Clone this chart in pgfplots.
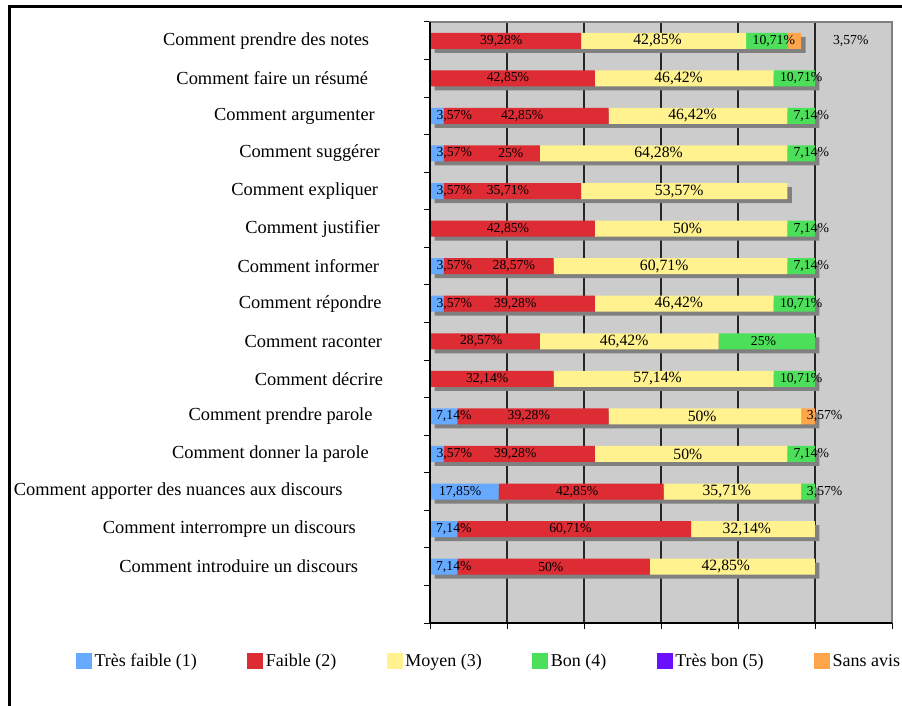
\documentclass[border=0pt]{standalone}
\usepackage{fontspec}
\setmainfont{Liberation Serif}
\usepackage{pgfplots}
\usepackage{pgfplotstable}
\pgfplotsset{compat=1.18}
\definecolor{cTF}{RGB}{102,170,255}
\definecolor{cF}{RGB}{221,44,52}
\definecolor{cM}{RGB}{255,242,143}
\definecolor{cB}{RGB}{76,224,90}
\definecolor{cTB}{RGB}{107,16,255}
\definecolor{cSA}{RGB}{255,166,77}
\definecolor{bgray}{RGB}{204,204,204}
\definecolor{sgray}{RGB}{128,128,128}
\newcommand\catfont{\fontsize{18.4}{20}\selectfont}
\newcommand\lblfont{\fontsize{13.7}{15}\selectfont}
\newcommand\ylwfont{\fontsize{15.7}{17}\selectfont}
\newcommand\legfont{\fontsize{18}{20}\selectfont}
\pgfplotsset{
  legsq/.style={legend image code/.code={\fill[##1] (0pt,-8pt) rectangle (16pt,8pt);}},
  geom/.style={at={(430pt,-22pt)}, anchor=north west, width=462pt, height=601pt,
    scale only axis, xmin=0, xmax=120, ymin=-0.5, ymax=15.5, clip=false},
}
% y: 15 = first category (top), 1 = last category
\pgfplotstableread{
y tf f m b sa tot
15 0 39.28 42.85 10.71 3.57 96.41
14 0 42.85 46.42 10.71 0 99.98
13 3.57 42.85 46.42 7.14 0 99.98
12 3.57 25 64.28 7.14 0 99.99
11 3.57 35.71 53.57 0 0 92.85
10 0 42.85 50 7.14 0 99.99
9 3.57 28.57 60.71 7.14 0 99.99
8 3.57 39.28 46.42 10.71 0 99.98
7 0 28.57 46.42 25 0 99.99
6 0 32.14 57.14 10.71 0 99.99
5 7.14 39.28 50 0 3.57 99.99
4 3.57 39.28 50 7.14 0 99.99
3 17.85 42.85 35.71 3.57 0 99.98
2 7.14 60.71 32.14 0 0 99.99
1 7.14 50 42.85 0 0 99.99
}\data
% label positions (x = label centre)
\pgfplotstableread{
x y v
18.49 15 39.28
89.30 15 10.71
109.3 15 3.57
20.26 14 42.85
96.40 14 10.71
6.29 13 3.57
23.94 13 42.85
99.04 13 7.14
6.29 12 3.57
20.99 12 25
99.04 12 7.14
6.29 11 3.57
20.26 11 35.71
20.26 10 42.85
99.04 10 7.14
6.29 9 3.57
21.78 9 28.57
99.04 9 7.14
6.29 8 3.57
22.16 8 39.28
96.40 8 10.71
13.29 7 28.57
86.62 7 25
14.85 6 32.14
96.40 6 10.71
6.19 5 7.14
25.67 5 39.28
102.51 5 3.57
6.29 4 3.57
22.16 4 39.28
99.04 4 7.14
7.83 3 17.85
38.22 3 42.85
102.51 3 3.57
6.19 2 7.14
36.49 2 60.71
6.19 1 7.14
31.38 1 50
}\lblA
\pgfplotstableread{
x y v
59.09 15 42.85
64.55 14 46.42
68.18 13 46.42
59.35 12 64.28
64.72 11 53.57
66.88 10 50
60.82 9 60.71
64.63 8 46.42
50.43 7 46.42
59.09 6 57.14
70.69 5 50
66.97 4 50
77.10 3 35.71
82.30 2 32.14
76.84 1 42.85
}\lblB
\begin{document}
\begin{tikzpicture}
\useasboundingbox (0pt,0pt) rectangle (902pt,-706pt);
% background, grid, ticks
\begin{axis}[geom,
  axis background/.style={fill=bgray},
  axis line style={sgray, line width=1.2pt},
  xtick={20,40,...,100}, xticklabels={},
  extra x ticks={0,120}, extra x tick labels={}, extra x tick style={grid=none},
  ytick={-0.5,0.5,...,15.5}, yticklabels={},
  xmajorgrids, major grid style={black!85, line width=1.2pt},
  tick align=outside, xtick pos=bottom, ytick pos=left,
  major tick length=6pt, tick style={black, line width=1pt},
]
\addplot[draw=none] coordinates {(0,1)};
\end{axis}
% shadows
\begin{axis}[geom, xmin=-1.169, xmax=118.831, ymin=-0.3935, ymax=15.6065,
  hide axis]
\addplot[xbar, bar width=16pt, fill=sgray, draw=none] table[x=tot, y=y]{\data};
\end{axis}
% bars
\begin{axis}[geom, xbar stacked, bar width=16pt,
  axis line style={draw=none}, xtick=\empty,
  ytick={1,...,15},
  yticklabels={
    Comment introduire un discours\kern25pt,
    Comment interrompre un discours\kern27.3pt,
    Comment apporter des nuances aux discours\kern40.6pt,
    Comment donner la parole\kern14.3pt,
    Comment prendre parole\kern10.6pt,
    Comment décrire,
    Comment raconter\kern1pt,
    Comment répondre\kern1.6pt,
    Comment informer\kern4pt,
    Comment justifier\kern3.3pt,
    Comment expliquer\kern5pt,
    Comment suggérer\kern3.3pt,
    Comment argumenter\kern8.3pt,
    Comment faire un résumé\kern15pt,
    Comment prendre des notes\kern14pt},
  ytick style={draw=none}, major tick length=0pt,
  yticklabel style={font=\catfont, anchor=east, inner sep=0pt, xshift=-46.7pt},
  legend columns=6,
  legend style={at={(-0.7662,-0.0632)}, anchor=west, draw=none, fill=none,
    inner sep=0pt, outer sep=0pt, font=\legfont,
    nodes={inner sep=2.5pt},
    /tikz/every even column/.append style={column sep=48pt}},
]
\addplot[legsq, fill=cTF, draw=none] table[x=tf, y=y]{\data};
\addplot[legsq, fill=cF, draw=none] table[x=f, y=y]{\data};
\addplot[legsq, fill=cM, draw=none] table[x=m, y=y]{\data};
\addplot[legsq, fill=cB, draw=none] table[x=b, y=y]{\data};
\addlegendimage{legsq, fill=cTB, draw=none}
\addplot[legsq, fill=cSA, draw=none] table[x=sa, y=y]{\data};
\legend{Très faible (1), Faible (2), Moyen (3), Bon (4), Très bon (5), Sans avis}
\end{axis}
% value labels
\begin{axis}[geom, hide axis]
\addplot[draw=none, mark=none, point meta=explicit,
  nodes near coords={\pgfmathprintnumber[fixed,precision=2,use comma,assume math mode=true]{\pgfplotspointmeta}\%},
  nodes near coords align={center},
  every node near coord/.append style={font=\lblfont, inner sep=0pt, text=black}]
  table[x=x, y=y, meta=v]{\lblA};
\addplot[draw=none, mark=none, point meta=explicit,
  nodes near coords={\pgfmathprintnumber[fixed,precision=2,use comma,assume math mode=true]{\pgfplotspointmeta}\%},
  nodes near coords align={center},
  every node near coord/.append style={font=\ylwfont, inner sep=0pt, text=black}]
  table[x=x, y=y, meta=v]{\lblB};
\end{axis}
% axis lines and frame
\draw[black, line width=1.2pt] (430pt,-22pt) -- (430pt,-623pt) -- (892pt,-623pt);
\draw[black, line width=3pt] (8pt,-6.5pt) -- (902pt,-6.5pt);
\draw[black, line width=3pt] (9.5pt,-5pt) -- (9.5pt,-706pt);
\end{tikzpicture}
\end{document}
